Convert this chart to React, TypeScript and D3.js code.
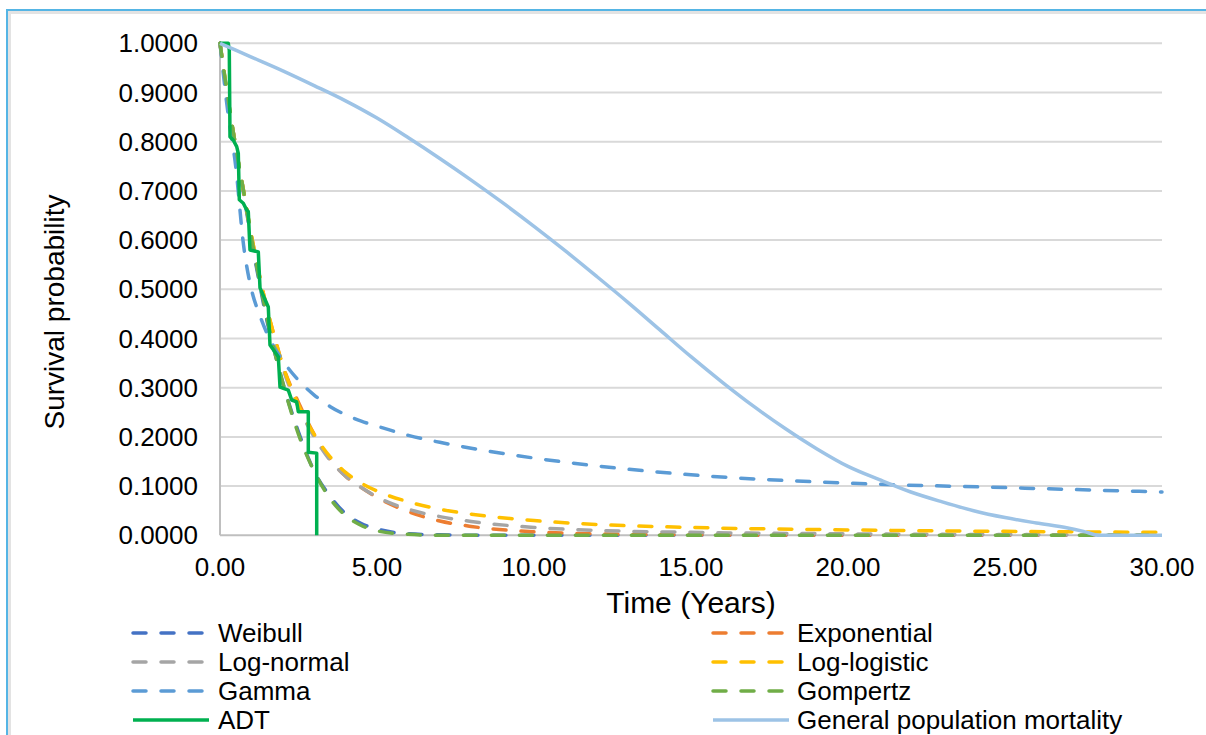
import React, { useEffect, useRef } from 'react';
import * as d3 from 'd3';

// time grid (years) shared by the fitted models
const modelTimes = [0, 0.25, 0.5, 0.75, 1, 1.25, 1.5, 1.75, 2, 2.5, 3, 3.5, 4, 4.5, 5, 6, 7, 8, 10, 12, 15, 20, 25, 30];

const weibull = [1, 0.885, 0.79, 0.695, 0.6, 0.515, 0.435, 0.37, 0.31, 0.21, 0.13, 0.08, 0.044, 0.024, 0.013, 0.003, 0.001, 0, 0, 0, 0, 0, 0, 0];
const exponential = [1, 0.885, 0.79, 0.7, 0.61, 0.53, 0.46, 0.4, 0.345, 0.27, 0.205, 0.155, 0.12, 0.097, 0.077, 0.048, 0.029, 0.018, 0.007, 0.003, 0.001, 0, 0, 0];
const logNormal = [1, 0.89, 0.79, 0.7, 0.605, 0.525, 0.455, 0.395, 0.34, 0.26, 0.2, 0.153, 0.12, 0.097, 0.078, 0.053, 0.038, 0.028, 0.016, 0.01, 0.006, 0.003, 0.0015, 0.001];
const logLogistic = [1, 0.89, 0.79, 0.7, 0.61, 0.53, 0.46, 0.4, 0.345, 0.265, 0.205, 0.16, 0.128, 0.106, 0.09, 0.068, 0.053, 0.043, 0.03, 0.022, 0.016, 0.011, 0.008, 0.006];
const gamma = [1, 0.86, 0.75, 0.59, 0.5, 0.45, 0.41, 0.38, 0.355, 0.315, 0.285, 0.262, 0.245, 0.232, 0.222, 0.203, 0.189, 0.177, 0.157, 0.141, 0.123, 0.106, 0.097, 0.088];
const gompertz = [1, 0.89, 0.79, 0.7, 0.605, 0.52, 0.44, 0.37, 0.31, 0.205, 0.13, 0.075, 0.04, 0.02, 0.009, 0.002, 0, 0, 0, 0, 0, 0, 0, 0];

// Kaplan-Meier (ADT)
const adtTimes = [0, 0.264, 0.296, 0.318, 0.424, 0.532, 0.583, 0.615, 0.742, 0.85, 0.901, 0.955, 1.22, 1.274, 1.538, 1.592, 1.857, 1.911, 2.175, 2.283, 2.443, 2.494, 2.812, 2.812, 3.08, 3.08];
const adtSurv = [1, 1, 0.986, 0.81, 0.803, 0.79, 0.776, 0.682, 0.675, 0.661, 0.658, 0.58, 0.576, 0.503, 0.464, 0.387, 0.363, 0.301, 0.295, 0.275, 0.271, 0.251, 0.251, 0.169, 0.167, 0];

// general population mortality
const genTimes = [0, 1, 2, 3, 4, 5, 6, 7, 8, 9, 10, 11, 12, 13, 14, 15, 16, 17, 18, 19, 20, 21, 22, 23, 24, 25, 26, 27, 27.5, 28, 30];
const genSurv = [1, 0.972, 0.944, 0.914, 0.883, 0.848, 0.808, 0.766, 0.722, 0.676, 0.628, 0.578, 0.526, 0.473, 0.418, 0.363, 0.311, 0.262, 0.217, 0.176, 0.14, 0.113, 0.088, 0.068, 0.05, 0.036, 0.025, 0.015, 0.008, 0, 0];

const yTicks = [0, 0.1, 0.2, 0.3, 0.4, 0.5, 0.6, 0.7, 0.8, 0.9, 1.0];
const xTicks = [0, 5, 10, 15, 20, 25, 30];

const series = [
    { name: 'Weibull', t: modelTimes, s: weibull, color: '#4472c4', dash: true },
    { name: 'Exponential', t: modelTimes, s: exponential, color: '#ed7d31', dash: true },
    { name: 'Log-normal', t: modelTimes, s: logNormal, color: '#a5a5a5', dash: true },
    { name: 'Log-logistic', t: modelTimes, s: logLogistic, color: '#ffc000', dash: true },
    { name: 'Gamma', t: modelTimes, s: gamma, color: '#5b9bd5', dash: true },
    { name: 'Gompertz', t: modelTimes, s: gompertz, color: '#70ad47', dash: true },
    { name: 'ADT', t: adtTimes, s: adtSurv, color: '#00b050', dash: false, step: true },
    { name: 'General population mortality', t: genTimes, s: genSurv, color: '#9dc3e6', dash: false }
];

const App = () => {
    const ref = useRef(null);

    useEffect(() => {
        drawChart();
    }, []);

    const drawChart = () => {
        const width = 1206, height = 735;
        const svg = d3.select(ref.current);
        svg.selectAll('*').remove();
        svg.attr('width', width).attr('height', height);

        svg.append('rect').attr('width', width).attr('height', height).style('fill', '#fff');

        // screenshot frame
        svg.append('rect')
            .attr('x', 9.5).attr('y', 12.5).attr('width', 1400).attr('height', 900)
            .style('fill', 'none').style('stroke', '#e3e3e3').style('stroke-width', 3);
        svg.append('rect')
            .attr('x', 7).attr('y', 10).attr('width', 1400).attr('height', 900)
            .style('fill', 'none').style('stroke', '#55b5e5').style('stroke-width', 2);

        const x = d3.scaleLinear().domain([0, 30]).range([220, 1162]);
        const y = d3.scaleLinear().domain([0, 1]).range([535.3, 43.3]);
        const font = 'Arial, "Liberation Sans", sans-serif';

        // gridlines
        svg.selectAll('.grid')
            .data(yTicks.filter(d => d > 0))
            .enter()
            .append('line')
            .attr('x1', x(0)).attr('x2', x(30))
            .attr('y1', d => y(d)).attr('y2', d => y(d))
            .style('stroke', '#d9d9d9').style('stroke-width', 2);

        // axis lines
        svg.append('line').attr('x1', x(0)).attr('x2', x(0)).attr('y1', y(0)).attr('y2', y(1))
            .style('stroke', '#bfbfbf').style('stroke-width', 2);
        svg.append('line').attr('x1', x(0)).attr('x2', x(30)).attr('y1', y(0)).attr('y2', y(0))
            .style('stroke', '#bfbfbf').style('stroke-width', 2);

        svg.selectAll('.ylab')
            .data(yTicks)
            .enter()
            .append('text')
            .attr('x', 198).attr('y', d => y(d))
            .attr('dy', '0.35em')
            .style('text-anchor', 'end')
            .style('font-family', font).style('font-size', '26px').style('fill', '#000')
            .text(d => d.toFixed(4));

        svg.selectAll('.xlab')
            .data(xTicks)
            .enter()
            .append('text')
            .attr('x', d => x(d)).attr('y', 576)
            .style('text-anchor', 'middle')
            .style('font-family', font).style('font-size', '26px').style('fill', '#000')
            .text(d => d.toFixed(2));

        svg.append('text')
            .attr('x', 691).attr('y', 613)
            .style('text-anchor', 'middle')
            .style('font-family', font).style('font-size', '30px').style('fill', '#000')
            .text('Time (Years)');

        svg.append('text')
            .attr('transform', 'translate(64,312) rotate(-90)')
            .style('text-anchor', 'middle')
            .style('font-family', font).style('font-size', '28px').style('fill', '#000')
            .text('Survival probability');

        // curves
        series.forEach(sr => {
            const pts = sr.t.map((t, i) => [t, sr.s[i]]);
            const line = d3.line()
                .x(d => x(d[0]))
                .y(d => y(d[1]))
                .curve(sr.step ? d3.curveLinear : d3.curveMonotoneX);
            svg.append('path')
                .datum(pts)
                .attr('d', line)
                .style('fill', 'none')
                .style('stroke', sr.color)
                .style('stroke-width', 3.5)
                .style('stroke-dasharray', sr.dash ? '13 15' : null)
                .style('stroke-linecap', sr.dash ? 'round' : 'butt')
                .style('stroke-linejoin', 'round');
        });

        // legend, two columns
        const legend = svg.selectAll('.legend')
            .data(series)
            .enter()
            .append('g')
            .attr('transform', (d, i) => {
                const col = i % 2, row = Math.floor(i / 2);
                return 'translate(' + (col === 0 ? 133 : 713) + ',' + (633 + row * 29) + ')';
            });
        legend.append('line')
            .attr('x1', 0).attr('x2', 76).attr('y1', 0).attr('y2', 0)
            .style('stroke', d => d.color)
            .style('stroke-width', 3.5)
            .style('stroke-dasharray', d => d.dash ? '13 15' : null)
            .style('stroke-linecap', d => d.dash ? 'round' : 'butt');
        legend.append('text')
            .attr('x', (d, i) => i % 2 === 0 ? 85 : 84).attr('y', 0).attr('dy', '0.33em')
            .style('font-family', font).style('font-size', '26px').style('fill', '#000')
            .text(d => d.name);
    };

    return <svg ref={ref} style={{ position: 'absolute', left: 0, top: 0 }}></svg>;
};

export default App;
